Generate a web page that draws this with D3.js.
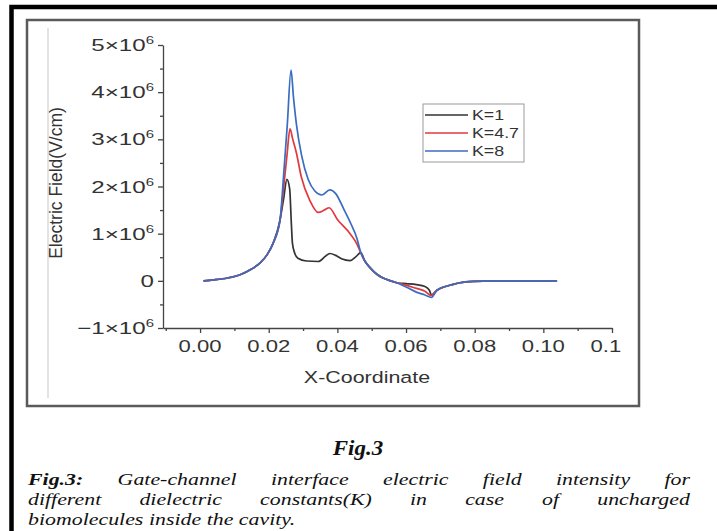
<!DOCTYPE html>
<html lang="en">
<head>
    <meta charset="UTF-8">
    <title>Fig.3</title>
    <script src="https://d3js.org/d3.v7.min.js"></script>
    <style>
        body { margin: 0; background: #fff; }
    </style>
</head>
<body>

<svg id="main" width="717" height="531"></svg>
<script>

    // ---- data (field values in units of 10^6 V/cm) ----
    const seriesNames = ['K=1', 'K=4.7', 'K=8'];
    const seriesColors = ['#333333', '#e2393f', '#3a6cc0'];

    const fieldK1 = [
        [0.001, 0], [0.004, 0.02], [0.008, 0.06], [0.012, 0.14], [0.015, 0.25], [0.0175, 0.38],
        [0.0195, 0.55], [0.0213, 0.8], [0.0233, 1.29], [0.0243, 1.72], [0.0253, 2.15], [0.0261, 1.95],
        [0.0266, 1.2], [0.0269, 0.8], [0.0276, 0.58], [0.0285, 0.48], [0.031, 0.42], [0.0344, 0.41],
        [0.0365, 0.52], [0.0378, 0.58], [0.0395, 0.54], [0.0412, 0.47], [0.0437, 0.43], [0.0455, 0.52],
        [0.0468, 0.6], [0.048, 0.42], [0.0495, 0.28], [0.0515, 0.14], [0.0533, 0.06], [0.0555, 0],
        [0.0573, -0.04], [0.06, -0.06], [0.063, -0.08], [0.0655, -0.12], [0.0668, -0.2], [0.0674, -0.3],
        [0.069, -0.2], [0.071, -0.13], [0.0735, -0.08], [0.0757, -0.04], [0.08, -0.01], [0.085, 0],
        [0.095, 0], [0.104, 0]
    ];

    const fieldK47 = [
        [0.001, 0], [0.004, 0.02], [0.008, 0.06], [0.012, 0.14], [0.015, 0.25], [0.0175, 0.38],
        [0.0195, 0.55], [0.0213, 0.8], [0.0233, 1.29], [0.0243, 1.95], [0.0253, 2.65], [0.0262, 3.22],
        [0.027, 3.0], [0.0281, 2.7], [0.0295, 2.2], [0.032, 1.7], [0.0344, 1.45], [0.0362, 1.5],
        [0.0376, 1.55], [0.04, 1.3], [0.0437, 1.0], [0.0457, 0.78], [0.0468, 0.6], [0.048, 0.42],
        [0.0495, 0.28], [0.0515, 0.14], [0.0533, 0.06], [0.0555, 0], [0.0573, -0.04], [0.06, -0.09],
        [0.063, -0.16], [0.0655, -0.22], [0.0673, -0.31], [0.069, -0.2], [0.071, -0.13], [0.0735, -0.08],
        [0.0757, -0.04], [0.08, -0.01], [0.085, 0], [0.095, 0], [0.104, 0]
    ];

    const fieldK8 = [
        [0.001, 0], [0.004, 0.02], [0.008, 0.06], [0.012, 0.14], [0.015, 0.25], [0.0175, 0.38],
        [0.0195, 0.55], [0.0213, 0.8], [0.0233, 1.29], [0.0243, 2.2], [0.0254, 3.3], [0.0265, 4.47],
        [0.0272, 3.9], [0.0281, 3.3], [0.0296, 2.65], [0.0315, 2.15], [0.0335, 1.9], [0.0355, 1.82],
        [0.0378, 1.93], [0.0395, 1.85], [0.042, 1.5], [0.044, 1.2], [0.0457, 0.9], [0.0468, 0.6],
        [0.048, 0.42], [0.0495, 0.28], [0.0515, 0.14], [0.0533, 0.06], [0.0555, 0], [0.0573, -0.04],
        [0.06, -0.13], [0.063, -0.24], [0.0655, -0.3], [0.0674, -0.35], [0.069, -0.2], [0.071, -0.13],
        [0.0735, -0.08], [0.0757, -0.04], [0.08, -0.01], [0.085, 0], [0.095, 0], [0.104, 0]
    ];

    const xTickValues = [0, 0.02, 0.04, 0.06, 0.08, 0.10, 0.12];
    const xTickLabels = ['0.00', '0.02', '0.04', '0.06', '0.08', '0.10', '0.12'];
    const yTickValues = [-1, 0, 1, 2, 3, 4, 5];
    const yTickMantissa = ['\u22121', '0', '1', '2', '3', '4', '5'];

    const captionLines = [
        ['Fig.3:', 'Gate-channel', 'interface', 'electric', 'field', 'intensity', 'for'],
        ['different', 'dielectric', 'constants(K)', 'in', 'case', 'of', 'uncharged'],
        ['biomolecules', 'inside', 'the', 'cavity.']
    ];

    // ---- layout ----
    const svg = d3.select('svg#main');
    const SX = 1.3;   // the figure's lettering is wide, stretch text horizontally
    const sans = 'Arial, "Liberation Sans", sans-serif';
    const serif = '"Liberation Serif", "Times New Roman", serif';

    const x = d3.scaleLinear().domain([-0.0108, 0.12]).range([163, 612]);
    const y = d3.scaleLinear().domain([-1, 5]).range([328, 45]);

    // page frame + figure box
    svg.append('rect').attr('x', 11.5).attr('y', 7).attr('width', 720).attr('height', 560)
        .attr('fill', 'none').attr('stroke', '#000').attr('stroke-width', 4.5);
    svg.append('rect').attr('x', 27).attr('y', 20).attr('width', 612).attr('height', 386)
        .attr('fill', 'none').attr('stroke', '#5a5a5a').attr('stroke-width', 2.5);
    svg.append('line').attr('x1', 48).attr('x2', 48).attr('y1', 28).attr('y2', 398)
        .attr('stroke', '#dadada').attr('stroke-width', 1.5);

    function wideText(parent, px, py, str, size, anchor, sx) {
        return parent.append('g')
            .attr('transform', `translate(${px},${py}) scale(${sx || SX},1)`)
            .append('text')
            .attr('text-anchor', anchor || 'start')
            .attr('font-family', sans)
            .attr('font-size', size)
            .attr('fill', '#333')
            .text(str);
    }

    // axes
    const yMinor = d3.range(-0.5, 5, 1);
    const xMinor = d3.range(-0.01, 0.121, 0.02);

    svg.append('g').attr('transform', 'translate(163,0)')
        .call(d3.axisLeft(y).tickValues(yTickValues).tickSize(5).tickSizeOuter(0).tickFormat(''));
    svg.append('g').attr('transform', 'translate(163,0)')
        .call(d3.axisLeft(y).tickValues(yMinor).tickSize(3).tickFormat(''))
        .select('.domain').remove();
    svg.append('g').attr('transform', 'translate(0,328)')
        .call(d3.axisBottom(x).tickValues(xTickValues).tickSize(5).tickSizeOuter(0).tickFormat(''));
    svg.append('g').attr('transform', 'translate(0,328)')
        .call(d3.axisBottom(x).tickValues(xMinor).tickSize(3).tickFormat(''))
        .select('.domain').remove();
    svg.selectAll('.domain, .tick line').attr('stroke', '#444').attr('stroke-width', 1.3);

    // y tick labels: m×10^6
    yTickValues.forEach((v, i) => {
        const t = wideText(svg, 154, y(v) + 6, '', 17, 'end', 1.42);
        if (v === 0) {
            t.text('0');
        } else {
            t.append('tspan').text(yTickMantissa[i] + '\u00d710');
            t.append('tspan').attr('dy', -7).attr('font-size', 10.5).text('6');
        }
    });

    // x tick labels (the last one is cut by the figure edge)
    svg.append('clipPath').attr('id', 'xclip')
        .append('rect').attr('x', 150).attr('y', 330).attr('width', 471).attr('height', 30);
    const gxl = svg.append('g').attr('clip-path', 'url(#xclip)');
    xTickValues.forEach((v, i) => wideText(gxl, x(v), 352, xTickLabels[i], 17, 'middle'));

    // axis titles
    wideText(svg, 367, 383, 'X-Coordinate', 16.5, 'middle');
    svg.append('text')
        .attr('transform', 'translate(62,183) rotate(-90)')
        .attr('text-anchor', 'middle')
        .attr('font-family', sans)
        .attr('font-size', 17.5)
        .attr('fill', '#333')
        .text('Electric Field(V/cm)');

    // curves
    const line = d3.line()
        .x(d => x(d[0]))
        .y(d => y(d[1]))
        .curve(d3.curveMonotoneX);

    svg.selectAll('path.series')
        .data([fieldK1, fieldK47, fieldK8])
        .enter()
        .append('path')
        .attr('class', 'series')
        .attr('fill', 'none')
        .attr('stroke', (d, i) => seriesColors[i])
        .attr('stroke-width', 1.7)
        .attr('stroke-linejoin', 'round')
        .attr('d', line);

    // legend
    const lg = svg.append('g');
    lg.append('rect').attr('x', 423).attr('y', 104).attr('width', 101).attr('height', 58)
        .attr('fill', '#fff').attr('stroke', '#9a9a9a').attr('stroke-width', 1);
    seriesNames.forEach((name, i) => {
        const ry = 115 + i * 18;
        lg.append('line').attr('x1', 425).attr('x2', 468).attr('y1', ry).attr('y2', ry)
            .attr('stroke', seriesColors[i]).attr('stroke-width', 1.5);
        wideText(lg, 472, ry + 5, name, 14, 'start', 1.27);
    });

    // caption
    const cap = svg.append('g');
    cap.append('g').attr('transform', 'translate(358,455) scale(1.15,1)')
        .append('text')
        .attr('text-anchor', 'middle')
        .attr('font-family', serif)
        .attr('font-size', 20)
        .attr('font-weight', 'bold')
        .attr('font-style', 'italic')
        .attr('fill', '#111')
        .text('Fig.3');

    const capLeft = 28, capRight = 690, capSize = 17.5, capSX = 1.25;
    captionLines.forEach((words, li) => {
        const by = 485 + li * 20;
        const nodes = words.map((w, wi) => {
            const g = cap.append('g');
            const t = g.append('text')
                .attr('font-family', serif)
                .attr('font-size', capSize)
                .attr('font-style', 'italic')
                .attr('font-weight', li === 0 && wi === 0 ? 'bold' : 'normal')
                .attr('fill', '#111')
                .text(w);
            return {g: g, w: t.node().getComputedTextLength() * capSX};
        });
        const total = d3.sum(nodes, d => d.w);
        const gap = li < captionLines.length - 1
            ? (capRight - capLeft - total) / (nodes.length - 1)
            : capSize * 0.25 * capSX;
        let cx = capLeft;
        nodes.forEach(n => {
            n.g.attr('transform', `translate(${cx},${by}) scale(${capSX},1)`);
            cx += n.w + gap;
        });
    });

</script>
</body>
</html>
